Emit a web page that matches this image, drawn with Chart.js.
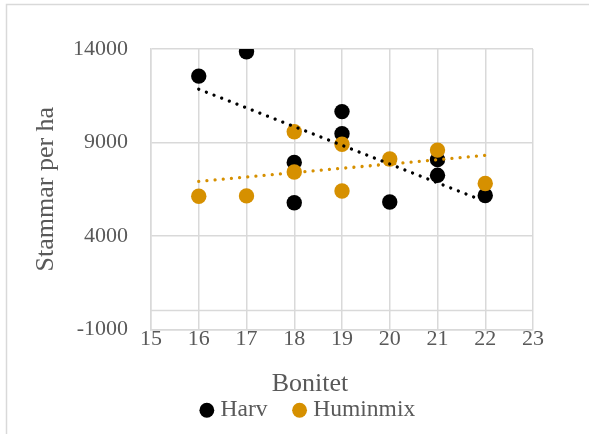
<!DOCTYPE html>
<html>
<head>
<meta charset="utf-8">
<script src="https://cdn.jsdelivr.net/npm/chart.js@4/dist/chart.umd.min.js"></script>
<style>
  html, body { margin: 0; padding: 0; background: #ffffff; }
  #wrap { width: 589px; height: 434px; position: relative; }
</style>
</head>
<body>
<div id="wrap"><canvas id="chart" width="589" height="434"></canvas></div>
<script>
// Stem counts per hectare against site index (bonitet)
const harvBonitet = [16, 17, 18, 18, 19, 19, 20, 21, 21, 22];
const harvStammar = [12550, 13850, 7930, 5770, 10650, 9470, 5810, 8080, 7240, 6160];

const huminBonitet = [16, 17, 18, 18, 19, 19, 20, 21, 22];
const huminStammar = [6120, 6140, 9570, 7420, 8900, 6400, 8110, 8590, 6800];

// Linear trend lines (end points)
const trendBonitet = [16, 22];
const harvTrend = [11850, 5840];
const huminTrend = [6920, 8310];

// Axis settings
const xTicks = { min: 15, max: 23, step: 1 };
const yTicks = { min: -1000, max: 14000, step: 5000 };
const zeroLine = [15, 23];

const FONT = "'Liberation Serif', 'Times New Roman', serif";
const TEXT = '#595959';
const GRID = '#d9d9d9';
const BLACK = '#000000';
const GOLD = '#d69000';

const pts = (xs, ys) => xs.map((x, i) => ({ x: x, y: ys[i] }));

// Thin frame around the chart object
const framePlugin = {
  id: 'frame',
  beforeDraw(chart) {
    const ctx = chart.ctx;
    ctx.save();
    ctx.strokeStyle = GRID;
    ctx.lineWidth = 1.5;
    ctx.beginPath();
    ctx.moveTo(6.5, chart.height);
    ctx.lineTo(6.5, 4.5);
    ctx.lineTo(chart.width, 4.5);
    ctx.stroke();
    ctx.restore();
  }
};

new Chart(document.getElementById('chart'), {
  type: 'scatter',
  data: {
    datasets: [
      {
        label: 'Harv',
        data: pts(harvBonitet, harvStammar),
        backgroundColor: BLACK,
        borderColor: BLACK,
        borderWidth: 0,
        pointRadius: 7.7,
        order: 3
      },
      {
        label: 'Huminmix',
        data: pts(huminBonitet, huminStammar),
        backgroundColor: GOLD,
        borderColor: GOLD,
        borderWidth: 0,
        pointRadius: 7.7,
        order: 2
      },
      {
        label: 'Linjär (Harv)',
        data: pts(trendBonitet, harvTrend),
        showLine: true,
        pointRadius: 0,
        borderColor: BLACK,
        borderWidth: 3.3,
        borderDash: [0.001, 8.2],
        borderCapStyle: 'round',
        order: 1
      },
      {
        label: 'Linjär (Huminmix)',
        data: pts(trendBonitet, huminTrend),
        showLine: true,
        pointRadius: 0,
        borderColor: GOLD,
        borderWidth: 3.3,
        borderDash: [0.001, 8.2],
        borderCapStyle: 'round',
        order: 0
      },
      {
        label: 'axel',
        data: pts(zeroLine, [0, 0]),
        showLine: true,
        pointRadius: 0,
        borderColor: GRID,
        borderWidth: 1.5,
        order: 10
      }
    ]
  },
  options: {
    responsive: false,
    animation: false,
    events: [],
    layout: { padding: { left: 31, right: 0, top: 49, bottom: 2 } },
    scales: {
      x: {
        type: 'linear',
        position: 'bottom',
        min: xTicks.min,
        max: xTicks.max,
        grid: { color: GRID, lineWidth: 1.5, drawTicks: false },
        border: { color: GRID, width: 1.5 },
        ticks: {
          stepSize: xTicks.step,
          padding: -1,
          color: TEXT,
          font: { family: FONT, size: 22, lineHeight: 1 },
          callback: v => String(v)
        },
        afterFit(s) { s.height = 30; }
      },
      y: {
        type: 'linear',
        position: 'left',
        min: yTicks.min,
        max: yTicks.max,
        grid: { color: GRID, lineWidth: 1.5, drawTicks: false },
        border: { color: GRID, width: 1.5 },
        ticks: {
          stepSize: yTicks.step,
          padding: 23,
          color: TEXT,
          font: { family: FONT, size: 22 },
          callback: v => String(v)
        },
        title: {
          display: true,
          text: 'Stammar per ha',
          color: TEXT,
          padding: { top: 0, bottom: 0 },
          font: { family: FONT, size: 26 }
        },
        afterFit(s) { s.width = 120; }
      },
      y2: {
        type: 'linear',
        position: 'right',
        display: true,
        grid: { display: false },
        border: { display: false },
        ticks: { display: false },
        afterFit(s) { s.width = 56; }
      }
    },
    plugins: {
      tooltip: { enabled: false },
      title: {
        display: true,
        text: 'Bonitet',
        position: 'bottom',
        weight: 500,
        color: TEXT,
        padding: { top: 9, bottom: -31 },
        font: { family: FONT, size: 26, weight: 'normal' }
      },
      legend: {
        position: 'bottom',
        labels: {
          usePointStyle: true,
          pointStyle: 'circle',
          boxWidth: 4,
          boxHeight: 10.5,
          padding: 30,
          color: TEXT,
          font: { family: FONT, size: 23.5 },
          filter: item => item.datasetIndex < 2,
          sort: (a, b) => a.datasetIndex - b.datasetIndex
        }
      }
    }
  },
  plugins: [framePlugin]
});
</script>
</body>
</html>
